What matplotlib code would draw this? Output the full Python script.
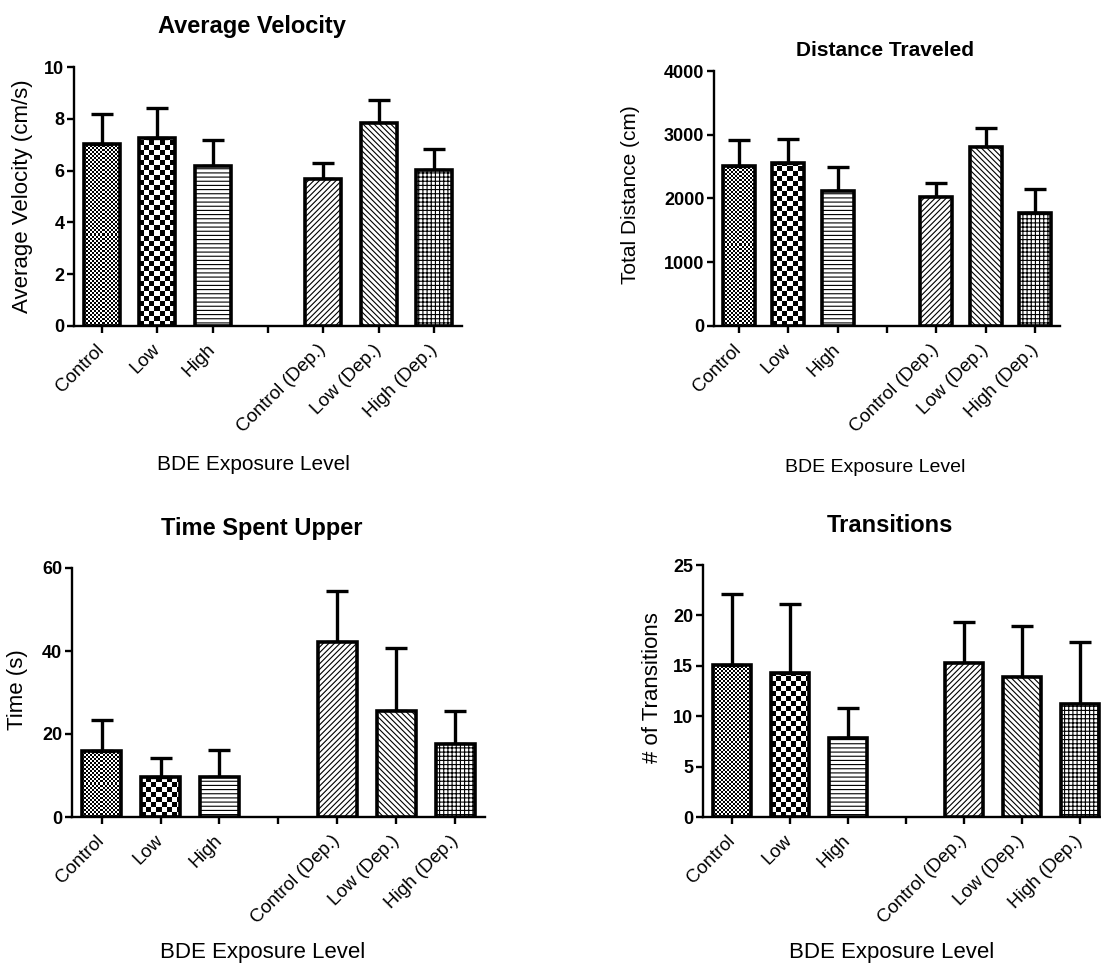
import numpy as np
import matplotlib
matplotlib.use("Agg")
import matplotlib.pyplot as plt

# ── datos ─────────────────────────────────────────────
grupos = ["Control", "Low", "High", "Control (Dep.)", "Low (Dep.)", "High (Dep.)"]
pos_barras = [0, 1, 2, 4, 5, 6]

vel_media = [7.03, 7.27, 6.19, 5.68, 7.83, 6.02]
vel_err = [1.16, 1.13, 1.01, 0.61, 0.90, 0.81]

dist_media = [2510, 2550, 2110, 2030, 2810, 1770]
dist_err = [410, 390, 380, 220, 300, 380]

tiempo_media = [16.0, 9.6, 9.6, 42.2, 25.6, 17.6]
tiempo_err = [7.4, 4.5, 6.6, 12.3, 15.1, 8.0]

trans_media = [15.1, 14.3, 7.8, 15.3, 13.9, 11.2]
trans_err = [7.0, 6.8, 3.0, 4.0, 5.0, 6.2]

plt.rcParams["font.family"] = ["Liberation Sans", "DejaVu Sans"]
plt.rcParams["hatch.linewidth"] = 0.8

W, H = 1101, 963
fig = plt.figure(figsize=(W / 100, H / 100), dpi=100)


def caja(x0, x1, top, bottom):
    return [x0 / W, 1 - bottom / H, (x1 - x0) / W, (bottom - top) / H]


def ftext(x, y, s, **kw):
    fig.text(x / W, 1 - y / H, s, ha="center", va="center", **kw)


def damero(ax, xc, ancho, alto, celda):
    # tablero de ajedrez dibujado pixel a pixel dentro de la barra
    x0, x1 = xc - ancho / 2, xc + ancho / 2
    p0 = ax.transData.transform((x0, 0))
    p1 = ax.transData.transform((x1, alto))
    nx = max(int(round(p1[0] - p0[0])), 1)
    ny = max(int(round(p1[1] - p0[1])), 1)
    jj, ii = np.meshgrid(np.arange(nx), np.arange(ny))
    arr = ((jj // celda) + (ii // celda)) % 2
    ax.imshow(arr, cmap="gray", vmin=0, vmax=1, extent=(x0, x1, 0, alto),
              origin="lower", aspect="auto", interpolation="nearest", zorder=1)


def panel(rect, medias, errores, ymax, paso):
    ax = fig.add_axes(rect)
    ax.set_xlim(-0.5, 6.5)
    ax.set_ylim(0, ymax)
    ancho = 0.65
    rellenos = [None, None, "----", "//////", "\\\\\\\\\\\\", "++++"]
    for k, (xc, m, e) in enumerate(zip(pos_barras, medias, errores)):
        if k == 0:
            damero(ax, xc, ancho, m, 2)
        elif k == 1:
            damero(ax, xc, ancho, m, 5)
        ax.errorbar(xc, m, yerr=[[0], [e]], fmt="none", ecolor="black",
                    elinewidth=2.4, capsize=8, capthick=2.4, zorder=2)
        ax.bar(xc, m, width=ancho, facecolor="white" if rellenos[k] else "none",
               edgecolor="black", linewidth=2.6, hatch=rellenos[k], zorder=3)
    ax.set_xlim(-0.5, 6.5)
    ax.set_ylim(0, ymax)
    ax.set_yticks(np.arange(0, ymax + paso / 2, paso))
    ax.set_xticks(range(7))
    ax.set_xticklabels(grupos[:3] + [""] + grupos[3:], rotation=45,
                       ha="right", va="center", rotation_mode="anchor",
                       fontsize=13.5)
    for lab in ax.get_yticklabels():
        lab.set_fontweight("bold")
        lab.set_fontsize(13)
    for s in ["top", "right"]:
        ax.spines[s].set_visible(False)
    for s in ["left", "bottom"]:
        ax.spines[s].set_linewidth(1.7)
    ax.tick_params(axis="both", direction="out", length=5, width=1.7)
    ax.tick_params(axis="x", pad=10)
    ax.tick_params(axis="y", pad=2)
    return ax


panel(caja(74, 462, 67, 326), vel_media, vel_err, 10, 2)
panel(caja(714, 1060, 71, 326), dist_media, dist_err, 4000, 1000)
panel(caja(72, 485, 568, 817), tiempo_media, tiempo_err, 60, 20)
panel(caja(703, 1109, 565, 817), trans_media, trans_err, 25, 5)

# ── títulos y etiquetas ──────────────────────────────
ftext(252, 26, "Average Velocity", fontsize=17, fontweight="bold")
ftext(885, 50, "Distance Traveled", fontsize=15, fontweight="bold")
ftext(262, 528, "Time Spent Upper", fontsize=17, fontweight="bold")
ftext(890, 526, "Transitions", fontsize=17, fontweight="bold")

ftext(253, 465, "BDE Exposure Level", fontsize=15)
ftext(875, 467, "BDE Exposure Level", fontsize=14)
ftext(263, 952, "BDE Exposure Level", fontsize=16)
ftext(892, 952, "BDE Exposure Level", fontsize=16)

ftext(23, 196, "Average Velocity (cm/s)", fontsize=16, rotation=90)
ftext(630, 195, "Total Distance (cm)", fontsize=15, rotation=90)
ftext(18, 690, "Time (s)", fontsize=16, rotation=90)
ftext(652, 688, "# of Transitions", fontsize=16, rotation=90)

fig.savefig("out.png", dpi=100)
